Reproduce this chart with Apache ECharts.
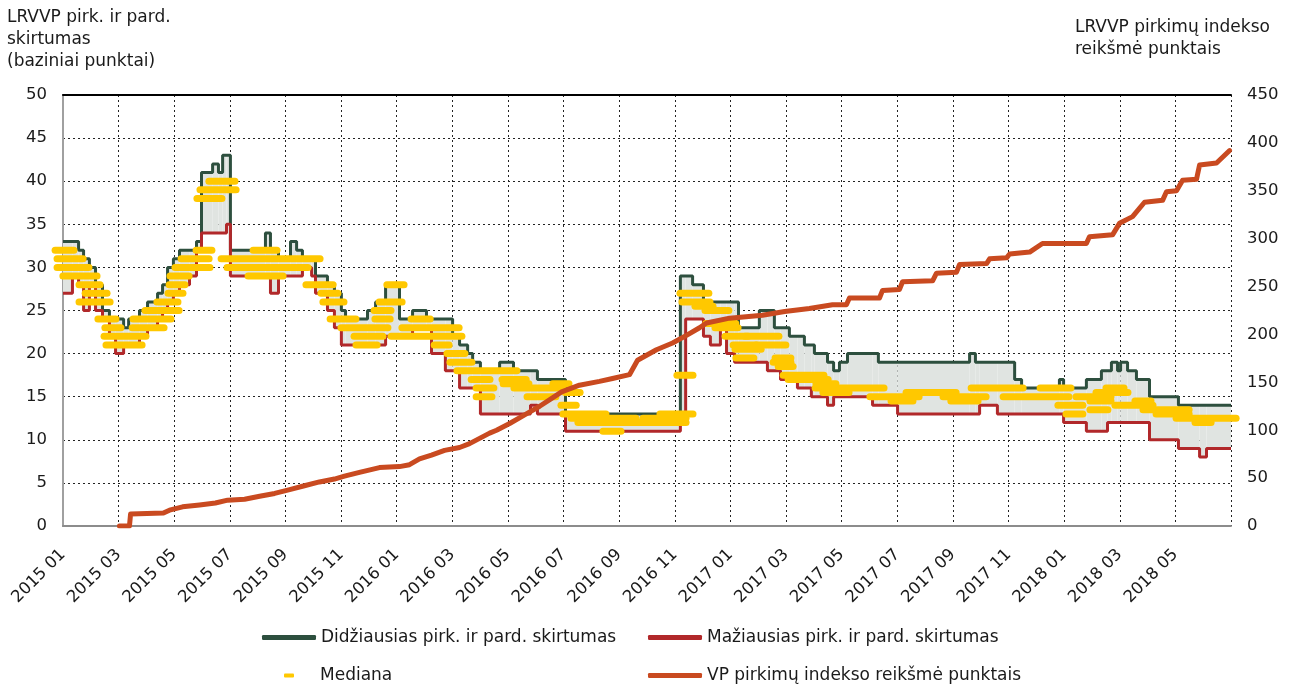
<!DOCTYPE html>
<html>
<head>
<meta charset="utf-8">
<title>LRVVP pirkimų ir pardavimų skirtumas</title>
<script src="https://cdn.jsdelivr.net/npm/echarts@6/dist/echarts.min.js"></script>
<style>
  html, body { margin: 0; padding: 0; background: #fff; }
  #chart { width: 1292px; height: 684px; }
</style>
</head>
<body>
<div id="chart"></div>
<script>
// x values are months counted from 2015 01 (0 = 2015-01-01, 42 = 2018-07-01)

// breakpoints of the largest / smallest bid-ask spread (value holds until next point)
var bandX = [0, 0.34, 0.56, 0.74, 0.95, 1.17, 1.42, 1.67, 1.89, 2.18,
  2.36, 2.75, 3.04, 3.40, 3.58, 3.76, 3.97, 4.19, 4.55, 4.80,
  4.98, 5.38, 5.59, 5.74, 5.88, 6.02, 7.28, 7.46, 7.75, 8.18,
  8.40, 8.61, 8.94, 9.08, 9.51, 9.76, 10.01, 10.16, 10.95, 11.24,
  11.60, 12.10, 12.57, 13.07, 13.25, 13.75, 14.01, 14.26, 14.55, 14.73,
  15.01, 15.70, 16.20, 16.81, 17.06, 18.07, 22.20, 22.39, 22.64, 23.03,
  23.28, 23.64, 23.86, 24.15, 24.29, 25.04, 25.33, 25.58, 25.80, 26.12,
  26.41, 26.66, 26.91, 27.02, 27.49, 27.71, 27.92, 28.21, 29.11, 29.32,
  30.01, 32.60, 32.81, 32.96, 33.60, 34.22, 34.47, 35.83, 35.98, 36.80,
  37.34, 37.56, 37.70, 37.92, 38.03, 38.28, 38.60, 39.07, 40.11, 40.87,
  41.12, 42];

var spreadMax = [33, 33, 32, 31, 30, 28, 25, 24, 24, 23,
  24, 25, 26, 27, 28, 30, 31, 32, 32, 33,
  41, 42, 41, 43, 43, 32, 34, 32, 31, 33,
  32, 31, 31, 29, 28, 27, 25, 24, 25, 26,
  28, 24, 25, 24, 24, 24, 22, 21, 20, 19,
  18, 19, 18, 18, 17, 13, 29, 29, 28, 26,
  26, 26, 26, 26, 23, 25, 25, 23, 23, 22,
  22, 21, 21, 20, 19, 18, 19, 20, 20, 19,
  19, 20, 19, 19, 19, 17, 16, 17, 16, 17,
  18, 18, 19, 18, 19, 18, 17, 15, 14, 14,
  14, 14];

var spreadMin = [27, 29, 28, 25, 28, 25, 24, 22, 20, 21,
  21, 22, 23, 24, 25, 26, 27, 28, 29, 32,
  34, 34, 34, 34, 35, 29, 29, 27, 29, 29,
  29, 30, 29, 27, 25, 23, 21, 21, 21, 21,
  22, 22, 23, 23, 20, 18, 18, 16, 16, 16,
  13, 13, 13, 14, 13, 11, 13, 24, 24, 22,
  21, 23, 20, 19, 19, 19, 18, 18, 17, 17,
  16, 16, 15, 15, 14, 15, 15, 15, 14, 14,
  13, 13, 13, 14, 13, 13, 13, 13, 12, 11,
  11, 12, 12, 12, 12, 12, 12, 10, 9, 8,
  9, 9];

// median runs: [from, to, median]
var medianBars = [
  [-0.41, 0.52, 32], [-0.34, 0.85, 31], [-0.34, 1.06, 30], [-0.13, 1.35, 29],
  [0.45, 1.46, 28], [0.67, 1.71, 27], [0.45, 1.82, 26], [1.13, 2.03, 24],
  [1.38, 2.21, 23], [1.35, 3.11, 22], [1.42, 2.97, 21], [2.36, 3.76, 23],
  [2.39, 4.01, 24], [2.82, 4.30, 25], [3.25, 4.26, 26], [3.65, 4.44, 27],
  [3.69, 4.51, 28], [3.72, 4.66, 29], [3.90, 5.41, 30], [4.12, 5.38, 31],
  [4.66, 5.48, 32], [4.69, 5.84, 38], [4.80, 6.35, 39], [5.12, 6.31, 40],
  [5.56, 9.37, 31], [5.77, 8.94, 30], [6.71, 7.82, 32], [6.53, 8.04, 29],
  [8.61, 9.84, 28], [9.15, 10.01, 27], [9.22, 10.23, 26], [9.48, 10.66, 24],
  [9.87, 11.81, 23], [10.34, 11.63, 22], [10.41, 11.42, 21], [11.06, 11.92, 25],
  [11.09, 11.89, 24], [11.24, 12.32, 26], [11.52, 12.39, 28], [12.06, 14.37, 23],
  [11.67, 14.47, 22], [12.39, 13.33, 24], [13.22, 14.01, 21], [13.68, 14.58, 20],
  [13.79, 14.83, 19], [14.04, 16.45, 18], [14.55, 15.48, 17], [14.73, 15.62, 16],
  [14.73, 15.55, 15], [15.66, 16.78, 17], [15.70, 16.88, 16.5], [16.09, 18.11, 16],
  [16.56, 17.85, 15], [17.49, 18.32, 16.5], [17.93, 18.72, 15.5], [17.78, 18.58, 14],
  [17.85, 19.65, 13], [18.14, 20.73, 12.5], [18.39, 22.53, 12], [19.29, 20.19, 11],
  [20.73, 22.53, 12.5], [21.34, 22.78, 13], [21.95, 22.78, 17.5], [22.06, 23.35, 27],
  [22.13, 23.39, 26], [22.60, 23.50, 25.5], [22.96, 24.07, 25], [22.99, 24.32, 23.5],
  [23.32, 24.40, 23], [23.68, 24.76, 22], [24.40, 25.87, 22], [23.97, 25.05, 21],
  [24.80, 26.12, 21], [24.04, 25.23, 20.5], [24.07, 24.97, 19.5], [25.48, 26.30, 19.5],
  [25.41, 26.30, 19], [25.59, 26.38, 18.5], [25.77, 27.49, 17.5], [25.95, 27.64, 17],
  [26.92, 29.65, 16], [27.20, 28.39, 15.5], [26.95, 27.92, 16.5], [28.89, 30.91, 15],
  [29.65, 30.69, 14.5], [30.19, 32.24, 15.5], [31.52, 33.32, 15], [31.80, 33.03, 14.5],
  [32.53, 34.65, 16], [33.68, 36.30, 15], [35.01, 36.37, 16], [35.65, 36.80, 14],
  [35.94, 36.80, 13], [36.30, 37.81, 15], [36.80, 37.81, 14.5], [37.02, 38.42, 15.5],
  [37.38, 38.28, 16], [36.80, 37.70, 13.5], [37.70, 39.32, 14], [38.42, 39.25, 14.5],
  [38.71, 40.62, 13.5], [39.18, 40.62, 13], [39.90, 42.31, 12.5], [40.58, 41.41, 12]
];

// VP purchase index (right axis)
var indexX = [2.03, 2.39, 2.43, 3.61, 3.83, 4.30, 4.91, 5.48, 5.92, 6.53,
  7.07, 7.61, 8.15, 8.68, 9.22, 9.76, 10.12, 10.66, 11.38, 12.10,
  12.46, 12.82, 13.25, 13.72, 14.26, 14.62, 15.34, 15.59, 16.06, 16.60,
  17.14, 17.67, 17.93, 18.57, 19.29, 19.76, 20.37, 20.66, 21.34, 21.92,
  22.42, 22.89, 23.14, 23.97, 25.15, 25.95, 26.84, 27.67, 28.17, 28.28,
  29.36, 29.47, 30.08, 30.19, 31.27, 31.41, 32.13, 32.24, 33.21, 33.32,
  33.93, 34.04, 34.76, 35.22, 36.80, 36.91, 37.74, 37.99, 38.46, 38.89,
  39.54, 39.68, 40.04, 40.26, 40.76, 40.87, 41.48, 41.95];
var indexValue = [0, 0, 12.5, 13.5, 16.5, 20, 22, 24, 27, 28,
  31, 34, 38, 42, 46, 49, 52, 56, 61, 62,
  64, 70, 74, 79, 82, 86, 97, 100, 107, 116,
  125, 135, 140, 147, 151, 154, 158, 173, 184, 191,
  199, 207, 212, 217, 220, 224, 227, 231, 231, 238,
  238, 246, 247, 255, 256, 264, 265, 273, 274, 279,
  280, 284, 286, 295, 295, 302, 304, 316, 323, 338,
  340, 349, 350, 361, 362, 377, 379, 392];

var FONT = 'DejaVu Sans';
var NAME_MAX = 'Didžiausias pirk. ir pard. skirtumas';
var NAME_MIN = 'Mažiausias pirk. ir pard. skirtumas';
var NAME_MED = 'Mediana';
var NAME_IDX = 'VP pirkimų indekso reikšmė punktais';

var bandRows = [];
for (var i = 0; i < bandX.length - 1; i++) {
  bandRows.push([bandX[i], bandX[i + 1], spreadMin[i], spreadMax[i]]);
}
var maxLine = bandX.map(function (x, i) { return [x, spreadMax[i]]; });
var minLine = bandX.map(function (x, i) { return [x, spreadMin[i]]; });
var indexLine = indexX.map(function (x, i) { return [x, indexValue[i]]; });

function renderBand(params, api) {
  var top = api.coord([api.value(0), api.value(3)]);
  var bot = api.coord([api.value(1), api.value(2)]);
  return {
    type: 'rect',
    shape: { x: top[0], y: top[1], width: bot[0] - top[0], height: bot[1] - top[1] },
    style: { fill: '#e0e4e1', stroke: null, lineWidth: 0 }
  };
}

function renderMedian(params, api) {
  var a = api.coord([api.value(0), api.value(2)]);
  var b = api.coord([api.value(1), api.value(2)]);
  return {
    type: 'rect',
    shape: { x: a[0], y: a[1] - 3.5, width: b[0] - a[0], height: 7, r: 3.5 },
    style: { fill: '#ffc800', stroke: null, lineWidth: 0 }
  };
}

function monthLabel(v) {
  var y = 2015 + Math.floor(v / 12);
  var m = v % 12 + 1;
  return y + ' ' + (m < 10 ? '0' + m : m);
}

var gridLine = { color: '#222', width: 1, type: [2, 3] };
var labelStyle = { fontFamily: FONT, fontSize: 16.5, color: '#1a1a1a' };
var textStyle = { fontFamily: FONT, fontSize: 17, fontWeight: 'normal', color: '#1a1a1a', lineHeight: 22 };

function legendAt(name, left, top, w, h, pad) {
  var l = {
    data: [{ name: name, icon: 'roundRect' }],
    left: left, top: top,
    itemWidth: w, itemHeight: h,
    selectedMode: false,
    textStyle: { fontFamily: FONT, fontSize: 17, color: '#1a1a1a' }
  };
  if (pad) l.textStyle.padding = pad;
  return l;
}

var chart = echarts.init(document.getElementById('chart'));
chart.setOption({
  animation: false,
  backgroundColor: '#fff',
  title: [
    { text: 'LRVVP pirk. ir pard.\nskirtumas\n(baziniai punktai)', left: 2, top: 2, textStyle: textStyle },
    { text: 'LRVVP pirkimų indekso\nreikšmė punktais', left: 1070, top: 12, textStyle: textStyle }
  ],
  legend: [
    legendAt(NAME_MAX, 257, 624, 54, 5),
    legendAt(NAME_MIN, 643, 624, 54, 5),
    legendAt(NAME_MED, 279, 662, 10, 4, [0, 0, 0, 21]),
    legendAt(NAME_IDX, 643, 662, 54, 5)
  ],
  grid: { left: 63, right: 61, top: 95, bottom: 158 },
  xAxis: [
    {
      type: 'value', min: 0, max: 42, interval: 2,
      axisLine: { onZero: false, lineStyle: { color: '#8c8c8c', width: 2 } },
      axisTick: { show: false },
      axisLabel: Object.assign({ rotate: 45, margin: 26, showMaxLabel: false, formatter: monthLabel }, labelStyle),
      splitLine: { show: true, lineStyle: gridLine }
    },
    {
      type: 'value', min: 0, max: 42, position: 'top',
      axisLine: { show: true, onZero: false, lineStyle: { color: '#000', width: 2 } },
      axisTick: { show: false }, axisLabel: { show: false }, splitLine: { show: false }
    }
  ],
  yAxis: [
    {
      type: 'value', min: 0, max: 50, interval: 5,
      axisLine: { show: true, lineStyle: { color: '#8c8c8c', width: 2 } },
      axisTick: { show: false },
      axisLabel: Object.assign({ margin: 16 }, labelStyle),
      splitLine: { show: true, lineStyle: gridLine }
    },
    {
      type: 'value', min: 0, max: 450, interval: 50, position: 'right',
      axisLine: { show: true, lineStyle: { color: '#a0a0a0', width: 2 } },
      axisTick: { show: false },
      axisLabel: Object.assign({ margin: 16 }, labelStyle),
      splitLine: { show: false }
    }
  ],
  series: [
    {
      type: 'custom', name: 'band', renderItem: renderBand, data: bandRows,
      encode: { x: [0, 1], y: [2, 3] }, silent: true, z: 2
    },
    {
      type: 'line', name: NAME_MAX, data: maxLine, step: 'end', showSymbol: false, symbol: 'none',
      color: '#2d4f3e', lineStyle: { color: '#2d4f3e', width: 3 }, z: 3
    },
    {
      type: 'line', name: NAME_MIN, data: minLine, step: 'end', showSymbol: false, symbol: 'none',
      color: '#b1282a', lineStyle: { color: '#b1282a', width: 3 }, z: 3
    },
    {
      type: 'custom', name: NAME_MED, renderItem: renderMedian, data: medianBars,
      encode: { x: [0, 1], y: 2 }, clip: false, itemStyle: { color: '#ffc800' }, z: 4
    },
    {
      type: 'line', name: NAME_IDX, yAxisIndex: 1, data: indexLine, showSymbol: false, symbol: 'none',
      color: '#c94a20', lineStyle: { color: '#c94a20', width: 5, cap: 'round', join: 'round' }, z: 5
    }
  ]
});
</script>
</body>
</html>
